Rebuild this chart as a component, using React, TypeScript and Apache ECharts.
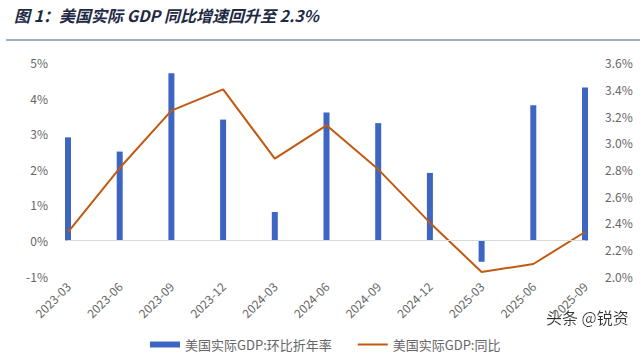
import React, { useEffect, useRef } from "react";
import * as echarts from "echarts";

const categories = ["2023-03", "2023-06", "2023-09", "2023-12", "2024-03", "2024-06", "2024-09", "2024-12", "2025-03", "2025-06", "2025-09"];
const qoqAnnualized = [2.9, 2.5, 4.7, 3.4, 0.8, 3.6, 3.3, 1.9, -0.6, 3.8, 4.3];
const yoy = [2.33, 2.81, 3.24, 3.4, 2.88, 3.13, 2.8, 2.4, 2.03, 2.09, 2.33];
const barName = "美国实际GDP:环比折年率";
const lineName = "美国实际GDP:同比";
const titleText = "图 1：美国实际 GDP 同比增速回升至 2.3%";
const watermark = "头条 @锐资";

const FONT = "'Noto Sans CJK SC', 'Noto Sans', sans-serif";

export default function App() {
  const ref = useRef<HTMLDivElement>(null);
  useEffect(() => {
    if (!ref.current) return;
    const chart = echarts.init(ref.current, null, { renderer: "svg" });
    chart.setOption({
      animation: false,
      backgroundColor: "#ffffff",
      textStyle: { fontFamily: FONT },
      grid: { left: 68, right: 55, top: 62.7, bottom: 87, containLabel: false },
      graphic: [
        {
          type: "text",
          left: 14,
          top: 7,
          style: {
            text: titleText,
            font: `italic bold 16px ${FONT}`,
            fill: "#1e2a44",
          },
        },
        {
          type: "rect",
          shape: { x: 6, y: 39, width: 634, height: 2 },
          style: { fill: "#9fb0bb" },
        },
        {
          type: "text",
          left: 546,
          top: 309,
          style: {
            text: watermark,
            font: `16px ${FONT}`,
            fill: "#333333",
            textShadowColor: "rgba(255,255,255,0.9)",
            textShadowBlur: 2,
          },
        },
      ],
      legend: {
        left: 145,
        top: 333,
        itemWidth: 30,
        itemHeight: 6,
        itemGap: 26,
        textStyle: { fontSize: 13, color: "#666666", fontFamily: FONT },
        data: [
          { name: barName, icon: "rect" },
          { name: lineName, icon: "path://M0,0h30v2H0z" },
        ],
      },
      xAxis: {
        type: "category",
        data: categories,
        boundaryGap: false,
        axisLine: { show: false, onZero: false },
        axisTick: { show: false },
        axisLabel: {
          rotate: 45,
          fontSize: 12,
          color: "#666666",
          margin: 8,
          fontFamily: FONT,
        },
        splitLine: { show: false },
      },
      yAxis: [
        {
          type: "value",
          min: -1,
          max: 5,
          interval: 1,
          axisLine: { show: false },
          axisTick: { show: false },
          splitLine: { show: false },
          axisLabel: {
            formatter: (v: number) => `${v}%`,
            fontSize: 12,
            color: "#666666",
            margin: 20,
            fontFamily: FONT,
          },
        },
        {
          type: "value",
          min: 2.0,
          max: 3.6,
          interval: 0.2,
          axisLine: { show: false },
          axisTick: { show: false },
          splitLine: { show: false },
          axisLabel: {
            formatter: (v: number) => `${v.toFixed(1)}%`,
            fontSize: 12,
            color: "#666666",
            margin: 20,
            fontFamily: FONT,
          },
        },
      ],
      series: [
        {
          name: barName,
          type: "bar",
          yAxisIndex: 0,
          data: qoqAnnualized,
          barWidth: 6,
          itemStyle: { color: "#3c66c2" },
          markLine: {
            silent: true,
            symbol: "none",
            label: { show: false },
            lineStyle: { color: "#d9d9d9", width: 1, type: "solid" },
            data: [{ yAxis: 0 }],
          },
        },
        {
          name: lineName,
          type: "line",
          yAxisIndex: 1,
          data: yoy,
          symbol: "none",
          lineStyle: { color: "#c05a12", width: 2 },
          itemStyle: { color: "#c05a12" },
        },
      ],
    });
    return () => chart.dispose();
  }, []);
  return <div ref={ref} style={{ width: 640, height: 363, position: "absolute", left: 0, top: 0 }} />;
}
